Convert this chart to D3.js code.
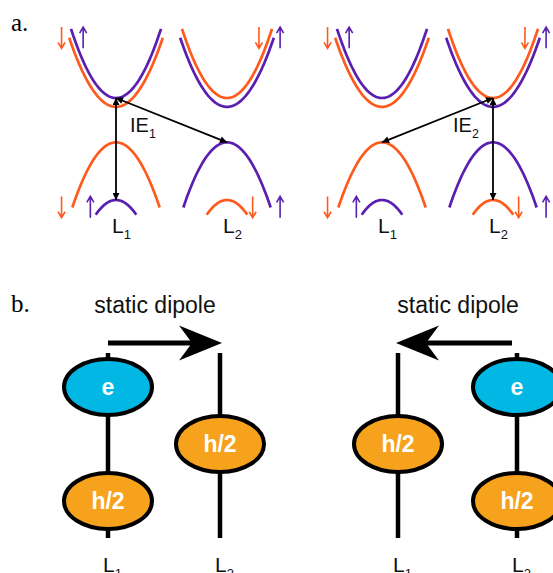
<!DOCTYPE html>
<html>
<head>
<meta charset="utf-8">
<script src="https://cdn.jsdelivr.net/npm/d3@7"></script>
<style>
  body { margin: 0; background: #fff; }
  svg { display: block; }
</style>
</head>
<body>
<svg id="fig" width="553" height="573"></svg>
<script>
// --------------- Data ---------------
const LEADS = ["L1", "L2"];
const SPINS = ["up", "down"];
const PANEL_A = ["1", "2"]; // IE subscripts

// band edges (arb. energy units), same for both panels of (a)
const bandLead = ["L1", "L1", "L1", "L1", "L2", "L2", "L2", "L2"];
const bandSpin = ["up", "down", "down", "up", "down", "up", "up", "down"];
const bandType = ["cb", "cb", "vb", "vb", "cb", "cb", "vb", "vb"];
const bandEdge = [2.0, 1.9, 1.5, 0.85, 2.0, 1.9, 1.5, 0.85];
const bandKMax = [1, 1.04, 0.97, 0.45, 1, 1.04, 0.97, 0.45];
const bandCurv = [0.78, 0.72, 0.78, 0.82, 0.78, 0.72, 0.78, 0.82];

// ionisation transitions
const iePanel = [0, 0, 1, 1];
const ieFromLead = ["L1", "L1", "L2", "L2"];
const ieFromE = [2.0, 2.0, 2.0, 2.0];
const ieToLead = ["L1", "L2", "L2", "L1"];
const ieToE = [0.85, 1.5, 0.85, 1.5];

// panel (b): charges on the leads
const dipoleText = ["static dipole", "static dipole"];
const chargePanel = [0, 0, 0, 1, 1, 1];
const chargeLead = ["L1", "L1", "L2", "L1", "L2", "L2"];
const chargeName = ["e", "h/2", "h/2", "h/2", "e", "h/2"];
const chargeLevel = [1, 0, 0.5, 0.5, 1, 0];

// --------------- Constants ---------------
const ORANGE = "#ff5a1e";
const PURPLE = "#5a1fb0";
const CYAN = "#00b8e3";
const AMBER = "#f7a21c";
const SANS = "'Liberation Sans', Arial, sans-serif";
const SERIF = "'Liberation Serif', 'Times New Roman', serif";

// spin tag positions (momentum units) next to the bands
const tagLead = ["L1", "L1", "L1", "L1", "L2", "L2", "L2", "L2"];
const tagType = ["cb", "cb", "vb", "vb", "cb", "cb", "vb", "vb"];
const tagSpin = ["down", "up", "down", "up", "down", "up", "down", "up"];
const tagK = [-1.21, -0.73, -1.21, -0.57, 0.71, 1.18, 0.57, 1.18];

const svg = d3.select("#fig");
const spinColor = d3.scaleOrdinal().domain(SPINS).range([PURPLE, ORANGE]);

const yE = d3.scaleLinear().domain([0.85, 2.0]).range([200, 98]);
const kx = d3.scaleLinear().domain([-1, 1]).range([-45, 45]);
const panelAX = [
  d3.scalePoint().domain(LEADS).range([116, 227]),
  d3.scalePoint().domain(LEADS).range([382, 493]),
];
const panelBX = [
  d3.scalePoint().domain(LEADS).range([108, 220]),
  d3.scalePoint().domain(LEADS).range([398, 517]),
];
const yLevel = d3.scaleLinear().domain([0, 1]).range([501, 387]);

// --------------- Markers ---------------
svg.append("defs")
  .append("marker")
  .attr("id", "head")
  .attr("viewBox", "0 0 10 10")
  .attr("refX", 10)
  .attr("refY", 5)
  .attr("markerWidth", 8)
  .attr("markerHeight", 7)
  .attr("markerUnits", "userSpaceOnUse")
  .attr("orient", "auto-start-reverse")
  .append("path")
  .attr("d", "M0,0L10,5L0,10Z")
  .attr("fill", "#000");

// panel letters
svg.append("text").attr("x", 11).attr("y", 31).text("a.")
  .attr("font-family", SERIF).attr("font-size", 25);
svg.append("text").attr("x", 11).attr("y", 312).text("b.")
  .attr("font-family", SERIF).attr("font-size", 25);

// sub-scripted label helper: L1 -> L with subscript 1
function subLabel(g, x, y, main, sub, size) {
  const t = g.append("text").attr("x", x).attr("y", y)
    .attr("font-family", SANS).attr("font-size", size).attr("fill", "#111");
  t.append("tspan").text(main);
  t.append("tspan").attr("dy", size * 0.3).attr("font-size", size * 0.62).text(sub);
}

// --------------- Panel a ---------------
const bands = bandLead.map((lead, i) => ({
  lead, spin: bandSpin[i], type: bandType[i], edge: bandEdge[i],
  kMax: bandKMax[i], curv: bandCurv[i],
}));
const tags = tagLead.map((lead, i) => ({
  lead, type: tagType[i], spin: tagSpin[i], k: tagK[i],
}));
const line = d3.line();

PANEL_A.forEach((sub, p) => {
  const xL = panelAX[p];
  const g = svg.append("g").attr("data-panel", "a" + p);

  g.selectAll("path.band")
    .data(bands)
    .join("path")
    .attr("class", "band")
    .attr("d", (b) => {
      const sign = b.type === "cb" ? 1 : -1;
      const pts = d3.range(-b.kMax, b.kMax + 1e-9, b.kMax / 40)
        .map((k) => [xL(b.lead) + kx(k), yE(b.edge + sign * b.curv * k * k)]);
      return line(pts);
    })
    .attr("fill", "none")
    .attr("stroke", (b) => spinColor(b.spin))
    .attr("stroke-width", 2.7);

  // little spin arrows
  g.selectAll("path.spin")
    .data(tags)
    .join("path")
    .attr("class", "spin")
    .attr("d", (t) => {
      const x = xL(t.lead) + kx(t.k);
      const top = t.type === "cb" ? yE(2.8) : yE(0.89);
      const bot = t.type === "cb" ? yE(2.56) : yE(0.65);
      if (t.spin === "up") {
        return `M${x},${bot}L${x},${top}M${x - 3.5},${top + 6}L${x},${top}L${x + 3.5},${top + 6}`;
      }
      return `M${x},${top}L${x},${bot}M${x - 3.5},${bot - 6}L${x},${bot}L${x + 3.5},${bot - 6}`;
    })
    .attr("fill", "none")
    .attr("stroke", (t) => spinColor(t.spin))
    .attr("stroke-width", 1.6);

  // transitions
  const ies = iePanel.map((q, i) => ({ q, i })).filter((d) => d.q === p);
  g.selectAll("line.ie")
    .data(ies)
    .join("line")
    .attr("class", "ie")
    .attr("x1", (d) => xL(ieFromLead[d.i]))
    .attr("y1", (d) => yE(ieFromE[d.i]))
    .attr("x2", (d) => xL(ieToLead[d.i]))
    .attr("y2", (d) => yE(ieToE[d.i]))
    .attr("stroke", "#000")
    .attr("stroke-width", 1.8)
    .attr("marker-start", "url(#head)")
    .attr("marker-end", "url(#head)");

  // IE label next to the vertical arrow
  const xv = xL(ieFromLead[ies[0].i]);
  subLabel(g, p === 0 ? xv + 14 : xv - 40, 132, "IE", sub, 20);

  LEADS.forEach((lead) => subLabel(g, xL(lead) - 4, 233, "L", lead.slice(1), 21));
});

// --------------- Panel b ---------------
dipoleText.forEach((txt, p) => {
  const xL = panelBX[p];
  const g = svg.append("g").attr("data-panel", "b" + p);
  const charges = chargePanel
    .map((q, i) => ({ q, lead: chargeLead[i], name: chargeName[i], level: chargeLevel[i] }))
    .filter((d) => d.q === p);
  const eLead = charges.find((d) => d.name === "e").lead;
  const other = LEADS.find((l) => l !== eLead);
  const dir = xL(other) > xL(eLead) ? 1 : -1;

  // leads
  g.selectAll("line.lead")
    .data(LEADS)
    .join("line")
    .attr("class", "lead")
    .attr("x1", (l) => xL(l))
    .attr("x2", (l) => xL(l))
    .attr("y1", 353)
    .attr("y2", 538)
    .attr("stroke", "#000")
    .attr("stroke-width", 4.5);

  // dipole arrow
  const y0 = 343;
  const tail = xL(eLead) - (dir < 0 ? 5 : 0);
  const tip = xL(other) + 2 * dir;
  g.append("line")
    .attr("x1", tail).attr("x2", tip - 30 * dir)
    .attr("y1", y0).attr("y2", y0)
    .attr("stroke", "#000").attr("stroke-width", 5);
  g.append("path")
    .attr("d", `M${tip},${y0}L${tip - 43 * dir},${y0 - 17.5}L${tip - 30 * dir},${y0}L${tip - 43 * dir},${y0 + 17.5}Z`)
    .attr("fill", "#000");

  g.append("text")
    .attr("x", p === 0 ? 155 : 458)
    .attr("y", 313)
    .attr("text-anchor", "middle")
    .attr("font-family", SANS)
    .attr("font-size", 23)
    .attr("fill", "#111")
    .text(txt);

  // charge clouds
  const blob = g.selectAll("g.charge")
    .data(charges)
    .join("g")
    .attr("class", "charge")
    .attr("transform", (d) => `translate(${xL(d.lead)},${yLevel(d.level)})`);
  blob.append("ellipse")
    .attr("rx", 44)
    .attr("ry", 28)
    .attr("fill", (d) => (d.name === "e" ? CYAN : AMBER))
    .attr("stroke", "#000")
    .attr("stroke-width", 4);
  blob.append("text")
    .attr("text-anchor", "middle")
    .attr("dy", 8)
    .attr("font-family", SANS)
    .attr("font-weight", "bold")
    .attr("font-size", 23)
    .attr("fill", "#fff")
    .text((d) => d.name);

  LEADS.forEach((lead) => subLabel(g, xL(lead) - 5, 572, "L", lead.slice(1), 21));
});
</script>
</body>
</html>
